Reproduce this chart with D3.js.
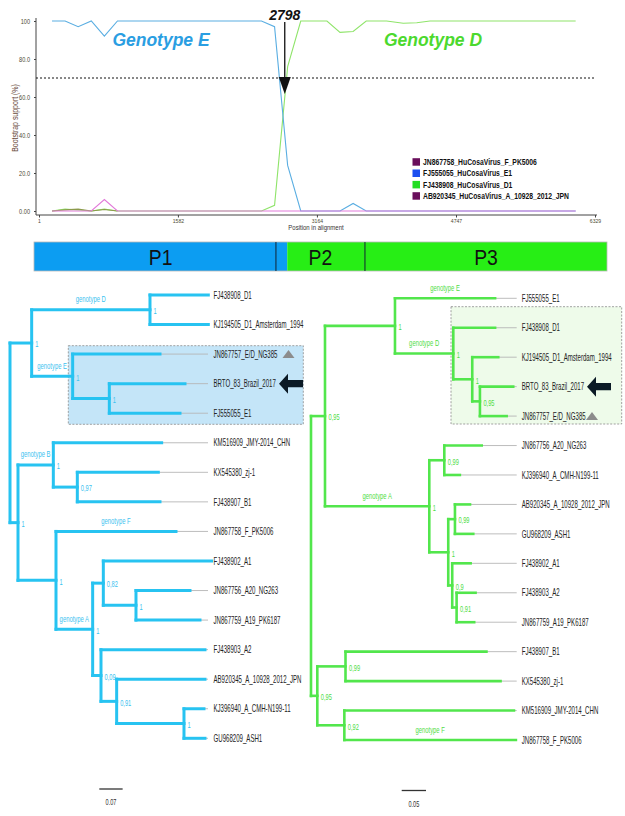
<!DOCTYPE html>
<html><head><meta charset="utf-8">
<script src="https://cdn.jsdelivr.net/npm/d3@7"></script>
<style>body{margin:0;background:#fff} svg{display:block}</style>
</head><body>
<svg id="c" width="625" height="816"></svg>
<script>
// ---------------- DATA ----------------
const posTicks = [1, 1582, 3164, 4747, 6329];
const supportTicks = [0, 20, 40, 60, 80, 100];
const supportTickLabels = ["0.00", "20.0", "40.0", "60.0", "80.0", "100"];
const seriesNames = ["JN867758_HuCosaVirus_F_PK5006", "FJ555055_HuCosaVirus_E1", "FJ438908_HuCosaVirus_D1", "AB920345_HuCosaVirus_A_10928_2012_JPN"];
const legendColors = ["#6a0f5c", "#1c4ff0", "#22dd22", "#6a0f5c"];
const lineColors = ["#e27ad9", "#5aaee2", "#8fe46a", "#8c9a4c"];
const posF = [149, 596, 745, 894, 6109];
const valF = [0, 0, 6, 0, 0];
const posE = [149, 298, 447, 596, 745, 894, 2533, 2682, 2831, 2980, 3427, 3576, 3725, 6109];
const valE = [100, 100, 97, 100, 92, 100, 100, 97, 24, 0, 0, 4, 0, 0];
const posD = [149, 298, 447, 596, 745, 894, 2533, 2682, 2831, 2980, 3278, 3427, 3576, 3725, 3957, 4147, 4300, 4451, 6109];
const valD = [0, 1, 0.5, 0, 1, 0, 0, 3, 76, 100, 100, 94, 94.5, 100, 100, 98.8, 99.1, 100, 100];
const posA = [149, 298, 447, 596, 745, 894];
const valA = [0, 0.6, 1, 0, 0.8, 0];
const cutoff = 70;
const breakpoint = 2798;
const genomeLength = 6329;
const regionNames = ["P1", "P2", "P3"];
const regionBounds = [1, 2673, 3656, 6329];
const colorSegStart = [1, 2798];
const colorSegEnd = [2798, 6329];
const colorSegFill = ["#0c9df2", "#27ee15"];

// trees: [parent, child, branch length]
const leftEdges = [
  ["root", "DE", 0.065], ["DE", "D", 0.355],
  ["D", "FJ438908_D1", 0.175], ["D", "KJ194505_D1_Amsterdam_1994", 0.175],
  ["DE", "E", 0.123], ["E", "JN867757_E/D_NG385", 0.262], ["E", "E2", 0.110],
  ["E2", "BRTO_83_Brazil_2017", 0.227], ["E2", "FJ555055_E1", 0.212],
  ["root", "R", 0.024], ["R", "B", 0.106],
  ["B", "KM516909_JMY-2014_CHN", 0.325], ["B", "B2", 0.072],
  ["B2", "KX545380_zj-1", 0.243], ["B2", "FJ438907_B1", 0.248],
  ["R", "AF", 0.114], ["AF", "JN867758_F_PK5006", 0.360], ["AF", "A", 0.110],
  ["A", "A1", 0.032], ["A1", "FJ438902_A1", 0.325], ["A1", "A1b", 0.098],
  ["A1b", "JN867756_A20_NG263", 0.162], ["A1b", "JN867759_A19_PK6187", 0.192],
  ["A", "A2", 0.025], ["A2", "FJ438903_A2", 0.312], ["A2", "A2b", 0.047],
  ["A2b", "AB920345_A_10928_2012_JPN", 0.265], ["A2b", "A2c", 0.202],
  ["A2c", "KJ396940_A_CMH-N199-11", 0.060], ["A2c", "GU968209_ASH1", 0.063]
];
const leftSupport = [["DE", "1"], ["D", "1"], ["E", "1"], ["E2", "1"], ["R", "1"], ["B", "1"], ["B2", "0,97"],
  ["AF", "1"], ["A", "1"], ["A1", "0,82"], ["A1b", "1"], ["A2", "0,09"], ["A2b", "0,91"], ["A2c", "1"]];
const leftGenotypes = [["D", "genotype D"], ["E", "genotype E"], ["B", "genotype B"], ["JN867758_F_PK5006", "genotype F"], ["A", "genotype A"]];

const rightEdges = [
  ["root", "EDA", 0.0288], ["EDA", "ED", 0.144],
  ["ED", "FJ555055_E1", 0.206], ["ED", "D", 0.120],
  ["D", "FJ438908_D1", 0.086], ["D", "D2", 0.039],
  ["D2", "KJ194505_D1_Amsterdam_1994", 0.0535], ["D2", "D3", 0.0158],
  ["D3", "BRTO_83_Brazil_2017", 0.0685], ["D3", "JN867757_E/D_NG385", 0.055],
  ["EDA", "A", 0.2146], ["A", "A1", 0.0309],
  ["A1", "JN867756_A20_NG263", 0.077], ["A1", "KJ396940_A_CMH-N199-11", 0.032],
  ["A", "A2", 0.039], ["A2", "A3", 0.0138],
  ["A3", "AB920345_A_10928_2012_JPN", 0.031], ["A3", "GU968209_ASH1", 0.0377],
  ["A2", "A4", 0.0082], ["A4", "FJ438902_A1", 0.0379], ["A4", "A5", 0.009],
  ["A5", "FJ438903_A2", 0.039], ["A5", "JN867759_A19_PK6187", 0.0362],
  ["root", "BF", 0.013], ["BF", "B", 0.058],
  ["B", "FJ438907_B1", 0.290], ["B", "KX545380_zj-1", 0.319],
  ["BF", "F", 0.0556], ["F", "KM516909_JMY-2014_CHN", 0.349], ["F", "JN867758_F_PK5006", 0.353]
];
const rightSupport = [["EDA", "0,95"], ["ED", "1"], ["D", "1"], ["D2", "1"], ["D3", "0,95"], ["A", "1"], ["A1", "0,99"],
  ["A2", "1"], ["A3", "0,99"], ["A4", "0,9"], ["A5", "0,91"], ["BF", "0,95"], ["B", "0,99"], ["F", "0,92"]];
const rightGenotypes = [["FJ555055_E1", "genotype E"], ["D", "genotype D"], ["A", "genotype A"], ["JN867758_F_PK5006", "genotype F"]];
const scaleBarLeft = 0.07, scaleBarRight = 0.05;
const studySample = "BRTO_83_Brazil_2017", recombinant = "JN867757_E/D_NG385";

// ---------------- HELPERS ----------------
const FONT = "'Liberation Sans', Arial, sans-serif";
const svg = d3.select("#c");
function txt(g, x, y, s, o) {
  const t = g.append("text")
    .attr("transform", `translate(${x},${y})` + (o.rot ? ` rotate(${o.rot})` : "") + ` scale(${o.sx || 1},1)`)
    .attr("font-family", FONT).attr("font-size", o.size).attr("fill", o.fill || "#000")
    .attr("text-anchor", o.anchor || "start");
  if (o.weight) t.attr("font-weight", o.weight);
  if (o.style) t.attr("font-style", o.style);
  if (o.dy) t.attr("dy", o.dy);
  t.text(s);
  return t;
}

// ---------------- BOOTSCAN CHART ----------------
const x = d3.scaleLinear().domain([1, genomeLength]).range([39, 595]);
const y = d3.scaleLinear().domain([0, 100]).range([211, 21]);
const chartG = svg.append("g");

chartG.append("line").attr("x1", 36).attr("x2", 597).attr("y1", 215).attr("y2", 215).attr("stroke", "#444").attr("stroke-width", 1);
chartG.append("line").attr("x1", 36).attr("x2", 36).attr("y1", 18).attr("y2", 215).attr("stroke", "#444").attr("stroke-width", 1);

const xa = chartG.append("g").attr("transform", "translate(0,215)")
  .call(d3.axisBottom(x).tickValues(posTicks).tickSize(2.5).tickPadding(1).tickFormat(d3.format("d")));
xa.select(".domain").remove();
xa.selectAll("line").attr("stroke", "#444");
xa.selectAll("text").attr("font-size", 6).attr("font-family", FONT).attr("fill", "#4d4a33").attr("transform", "scale(0.85,1)");

const ya = chartG.append("g").attr("transform", "translate(36,0)")
  .call(d3.axisLeft(y).tickValues(supportTicks).tickSize(2).tickPadding(4).tickFormat((d, i) => supportTickLabels[i]));
ya.select(".domain").remove();
ya.selectAll("line").attr("stroke", "#444");
ya.selectAll("text").attr("font-size", 7).attr("font-family", FONT).attr("fill", "#4d4a33").attr("transform", "scale(0.8,1)").attr("x", -7.5);

txt(chartG, 316, 229.5, "Position in alignment", { size: 7.5, sx: 0.8, anchor: "middle", fill: "#333" });
txt(chartG, 18, 118, "Bootstrap support (%)", { size: 8.5, sx: 0.82, anchor: "middle", fill: "#6a4b3c", rot: -90 });

// cutoff line
chartG.append("line").attr("x1", 36).attr("x2", x(6329)).attr("y1", y(cutoff)).attr("y2", y(cutoff))
  .attr("stroke", "#111").attr("stroke-width", 1).attr("stroke-dasharray", "2,2");

const line = d3.line().x(d => x(d[0])).y(d => y(d[1]));
const seriesData = [d3.zip(posD, valD), d3.zip(posE, valE), d3.zip(posA, valA), d3.zip(posF, valF)];
const seriesCol = [lineColors[2], lineColors[1], lineColors[3], lineColors[0]];
seriesData.forEach((s, i) => {
  chartG.append("path").attr("d", line(s)).attr("fill", "none").attr("stroke", seriesCol[i]).attr("stroke-width", 1.1);
});

// breakpoint arrow
const bx = x(breakpoint);
chartG.append("line").attr("x1", bx).attr("x2", bx).attr("y1", 22).attr("y2", 80).attr("stroke", "#111").attr("stroke-width", 1.3);
chartG.append("path").attr("d", `M${bx - 6},77 L${bx + 6},77 L${bx},94 Z`).attr("fill", "#111");
txt(chartG, bx, 20, String(breakpoint), { size: 14, anchor: "middle", weight: "bold", style: "italic", fill: "#111" });

txt(chartG, 161, 46, "Genotype E", { size: 17.5, anchor: "middle", weight: "bold", style: "italic", fill: "#2a9ee2" });
txt(chartG, 433, 46, "Genotype D", { size: 17.5, anchor: "middle", weight: "bold", style: "italic", fill: "#4cd92e" });

// legend
const legY = [162, 173.3, 184.7, 196];
seriesNames.forEach((n, i) => {
  chartG.append("rect").attr("x", 412.5).attr("y", legY[i] - 3.8).attr("width", 7.5).attr("height", 7.5).attr("fill", legendColors[i]);
  txt(chartG, 423, legY[i] + 3, n, { size: 8.5, sx: 0.8, weight: "bold", fill: "#111" });
});

// ---------------- GENOME MAP ----------------
const gx = d3.scaleLinear().domain([1, genomeLength]).range([34, 607]);
const gm = svg.append("g");
const barTop = 242, barH = 29;
colorSegStart.forEach((s, i) => {
  gm.append("rect").attr("x", gx(s)).attr("y", barTop).attr("width", gx(colorSegEnd[i]) - gx(s)).attr("height", barH).attr("fill", colorSegFill[i]);
});
gm.append("rect").attr("x", gx(1)).attr("y", barTop).attr("width", gx(genomeLength) - gx(1)).attr("height", barH)
  .attr("fill", "none").attr("stroke", "#b8b8b8").attr("stroke-width", 0.8);
regionBounds.slice(1, -1).forEach(b => {
  gm.append("line").attr("x1", gx(b)).attr("x2", gx(b)).attr("y1", barTop).attr("y2", barTop + barH).attr("stroke", "#123").attr("stroke-width", 1);
});
regionNames.forEach((n, i) => {
  const cx = i === 0 ? (gx(colorSegStart[0]) + gx(colorSegEnd[0])) / 2 : (gx(regionBounds[i]) + gx(regionBounds[i + 1])) / 2;
  txt(gm, cx, 264.5, n, { size: 22, anchor: "middle", fill: "#111", sx: 0.88 });
});

// ---------------- TREES ----------------
function drawTree(edges, support, genos, o) {
  const g = svg.append("g");
  const rows = [{ id: "root", parent: null, len: 0 }].concat(edges.map(e => ({ id: e[1], parent: e[0], len: e[2] })));
  const root = d3.stratify().id(d => d.id).parentId(d => d.parent)(rows);
  const xs = d3.scaleLinear().domain([0, 1]).range([o.x0, o.x0 + o.ppu]);
  const leaves = root.leaves();
  const ys = d3.scaleLinear().domain([0, leaves.length - 1]).range([o.yTop, o.yBot]);
  root.eachBefore(n => { n.dist = n.parent ? n.parent.dist + n.data.len : 0; n.px = xs(n.dist); });
  leaves.forEach((l, i) => l.py = ys(i));
  root.eachAfter(n => { if (n.children) n.py = (n.children[0].py + n.children[n.children.length - 1].py) / 2; });
  const byId = new Map(root.descendants().map(n => [n.id, n]));

  // highlight box
  const hb = o.box(byId);
  g.append("rect").attr("x", hb[0]).attr("y", hb[1]).attr("width", hb[2] - hb[0]).attr("height", hb[3] - hb[1])
    .attr("fill", o.boxFill).attr("stroke", "#8a8a8a").attr("stroke-width", 0.8).attr("stroke-dasharray", "2,1.5");

  // leaders
  leaves.forEach(l => {
    if (l.px < o.leaderEnd) g.append("line").attr("x1", l.px).attr("x2", o.leaderEnd).attr("y1", l.py).attr("y2", l.py)
      .attr("stroke", "#b5b5b5").attr("stroke-width", 0.9);
  });
  // branches
  root.descendants().forEach(n => {
    if (n.parent) g.append("line").attr("x1", n.parent.px).attr("x2", n.px).attr("y1", n.py).attr("y2", n.py)
      .attr("stroke", o.color).attr("stroke-width", o.lw).attr("stroke-linecap", "square");
    if (n.children) g.append("line").attr("x1", n.px).attr("x2", n.px)
      .attr("y1", n.children[0].py).attr("y2", n.children[n.children.length - 1].py)
      .attr("stroke", o.color).attr("stroke-width", o.lw).attr("stroke-linecap", "square");
  });
  // support values
  support.forEach(([id, s]) => {
    const n = byId.get(id);
    txt(g, n.px + 3.5, n.py + 1, s, { size: 9.5, sx: 0.6, fill: o.textColor, dy: "0.35em" });
  });
  // genotype labels
  genos.forEach(([id, s]) => {
    const n = byId.get(id);
    txt(g, (n.parent.px + n.px) / 2, n.py - 7.5, s, { size: 9.5, sx: 0.62, anchor: "middle", fill: o.textColor });
  });
  // leaf labels
  leaves.forEach(l => {
    txt(g, o.labelX, l.py, l.id, { size: 10.5, sx: 0.58, fill: "#222", dy: "0.35em" });
  });
  // study sample arrow
  const s = byId.get(studySample);
  const a0 = o.arrowX, a1 = o.arrowX + 24;
  g.append("path").attr("d", `M${a0},${s.py} L${a0 + 9},${s.py - 10} L${a0 + 9},${s.py - 3.6} L${a1},${s.py - 3.6} L${a1},${s.py + 3.6} L${a0 + 9},${s.py + 3.6} L${a0 + 9},${s.py + 10} Z`)
    .attr("fill", "#0b1a26");
  // recombinant triangle
  const r = byId.get(recombinant);
  g.append("path").attr("d", `M${o.triX},${r.py + 4} L${o.triX + 12},${r.py + 4} L${o.triX + 6},${r.py - 4} Z`).attr("fill", "#8c8c8c");
  // scale bar
  const bl = xs(o.bar) - xs(0);
  g.append("line").attr("x1", o.barX).attr("x2", o.barX + bl).attr("y1", o.barY).attr("y2", o.barY).attr("stroke", "#333").attr("stroke-width", 1.3);
  txt(g, o.barX + bl / 2, o.barY + 16, String(o.bar), { size: 9, sx: 0.62, anchor: "middle", fill: "#333" });
}

drawTree(leftEdges, leftSupport, leftGenotypes, {
  x0: 10, ppu: 333.3, yTop: 295, yBot: 738.3, color: "#27c3f1", lw: 3, textColor: "#3cc2ef",
  leaderEnd: 208, labelX: 213.5, arrowX: 279, triX: 282.5, bar: scaleBarLeft, barX: 99.3, barY: 789,
  boxFill: "#c4e5f8", box: m => [68.3, 345.7, 303.3, 424.3]
});
drawTree(rightEdges, rightSupport, rightGenotypes, {
  x0: 311, ppu: 486, yTop: 298.3, yBot: 740, color: "#52e64c", lw: 2.6, textColor: "#4fdd46",
  leaderEnd: 516.7, labelX: 521.7, arrowX: 587, triX: 586, bar: scaleBarRight, barX: 401.7, barY: 790.5,
  boxFill: "#eefbea", box: m => [451, 306.7, 621.7, 424]
});
</script>
</body></html>
